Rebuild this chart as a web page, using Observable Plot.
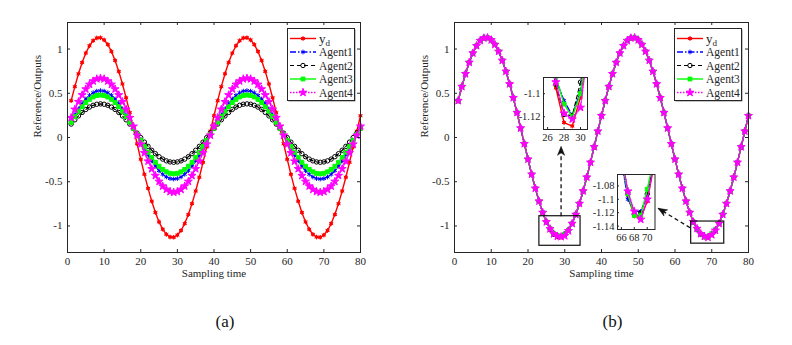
<!DOCTYPE html>
<html><head><meta charset="utf-8">
<script src="https://cdn.jsdelivr.net/npm/d3@7"></script>
<script src="https://cdn.jsdelivr.net/npm/@observablehq/plot@0.6"></script>
<style>
body{margin:0;background:#fff;}
#root{position:relative;width:792px;height:345px;overflow:hidden;background:#fff;}
#root svg{font-family:'Liberation Serif','Times New Roman',serif !important;font-size:11px;background:transparent !important;overflow:visible;}
</style></head><body><div id="root"></div>
<script>
// ---------- data ----------
const time = [1,2,3,4,5,6,7,8,9,10,11,12,13,14,15,16,17,18,19,20,21,22,23,24,25,26,27,28,29,30,31,32,33,34,35,36,37,38,39,40,
41,42,43,44,45,46,47,48,49,50,51,52,53,54,55,56,57,58,59,60,61,62,63,64,65,66,67,68,69,70,71,72,73,74,75,76,77,78,79,80];

const yd = [0.416,0.575,0.720,0.848,0.954,1.037,1.095,1.125,1.128,1.103,1.051,0.973,0.871,0.747,0.605,0.449,0.281,0.106,-0.071,-0.246,
-0.416,-0.575,-0.720,-0.848,-0.954,-1.037,-1.095,-1.125,-1.128,-1.103,-1.051,-0.973,-0.871,-0.747,-0.605,-0.449,-0.281,-0.106,0.071,0.246,
0.416,0.575,0.720,0.848,0.954,1.037,1.095,1.125,1.128,1.103,1.051,0.973,0.871,0.747,0.605,0.449,0.281,0.106,-0.071,-0.246,
-0.416,-0.575,-0.720,-0.848,-0.954,-1.037,-1.095,-1.125,-1.128,-1.103,-1.051,-0.973,-0.871,-0.747,-0.605,-0.449,-0.281,-0.106,0.071,0.246];

// panel (a): outputs before learning
const agent1A = [0.185,0.257,0.324,0.384,0.435,0.476,0.506,0.524,0.530,0.524,0.506,0.476,0.435,0.384,0.324,0.257,0.185,0.108,0.030,-0.048,
-0.125,-0.197,-0.264,-0.324,-0.375,-0.416,-0.446,-0.464,-0.470,-0.464,-0.446,-0.416,-0.375,-0.324,-0.264,-0.197,-0.125,-0.048,0.030,0.108,
0.185,0.257,0.324,0.384,0.435,0.476,0.506,0.524,0.530,0.524,0.506,0.476,0.435,0.384,0.324,0.257,0.185,0.108,0.030,-0.048,
-0.125,-0.197,-0.264,-0.324,-0.375,-0.416,-0.446,-0.464,-0.470,-0.464,-0.446,-0.416,-0.375,-0.324,-0.264,-0.197,-0.125,-0.048,0.030,0.108];
const agent2A = [0.152,0.200,0.244,0.283,0.317,0.344,0.364,0.376,0.380,0.376,0.364,0.344,0.317,0.283,0.244,0.200,0.152,0.101,0.050,-0.001,
-0.052,-0.100,-0.144,-0.183,-0.217,-0.244,-0.264,-0.276,-0.280,-0.276,-0.264,-0.244,-0.217,-0.183,-0.144,-0.100,-0.052,-0.001,0.050,0.101,
0.152,0.200,0.244,0.283,0.317,0.344,0.364,0.376,0.380,0.376,0.364,0.344,0.317,0.283,0.244,0.200,0.152,0.101,0.050,-0.001,
-0.052,-0.100,-0.144,-0.183,-0.217,-0.244,-0.264,-0.276,-0.280,-0.276,-0.264,-0.244,-0.217,-0.183,-0.144,-0.100,-0.052,-0.001,0.050,0.101];
const agent3A = [0.173,0.237,0.297,0.350,0.395,0.431,0.458,0.475,0.480,0.475,0.458,0.431,0.395,0.350,0.297,0.237,0.173,0.104,0.035,-0.034,
-0.103,-0.167,-0.227,-0.280,-0.325,-0.361,-0.388,-0.405,-0.410,-0.405,-0.388,-0.361,-0.325,-0.280,-0.227,-0.167,-0.103,-0.034,0.035,0.104,
0.173,0.237,0.297,0.350,0.395,0.431,0.458,0.475,0.480,0.475,0.458,0.431,0.395,0.350,0.297,0.237,0.173,0.104,0.035,-0.034,
-0.103,-0.167,-0.227,-0.280,-0.325,-0.361,-0.388,-0.405,-0.410,-0.405,-0.388,-0.361,-0.325,-0.280,-0.227,-0.167,-0.103,-0.034,0.035,0.104];
const agent4A = [0.224,0.318,0.404,0.481,0.547,0.600,0.638,0.662,0.670,0.662,0.638,0.600,0.547,0.481,0.404,0.318,0.224,0.126,0.025,-0.076,
-0.174,-0.268,-0.354,-0.431,-0.497,-0.550,-0.588,-0.612,-0.620,-0.612,-0.588,-0.550,-0.497,-0.431,-0.354,-0.268,-0.174,-0.076,0.025,0.126,
0.224,0.318,0.404,0.481,0.547,0.600,0.638,0.662,0.670,0.662,0.638,0.600,0.547,0.481,0.404,0.318,0.224,0.126,0.025,-0.076,
-0.174,-0.268,-0.354,-0.431,-0.497,-0.550,-0.588,-0.612,-0.620,-0.612,-0.588,-0.550,-0.497,-0.431,-0.354,-0.268,-0.174,-0.076,0.025,0.126];

// panel (b): outputs after learning
const agent1B = [0.416,0.575,0.720,0.848,0.954,1.037,1.095,1.125,1.128,1.103,1.051,0.973,0.871,0.747,0.605,0.449,0.281,0.106,-0.071,-0.246,
-0.416,-0.575,-0.720,-0.848,-0.954,-1.030,-1.088,-1.106,-1.119,-1.098,-1.048,-0.973,-0.871,-0.747,-0.605,-0.449,-0.281,-0.106,0.071,0.246,
0.416,0.575,0.720,0.848,0.954,1.037,1.095,1.125,1.128,1.103,1.051,0.973,0.871,0.747,0.605,0.449,0.281,0.106,-0.071,-0.246,
-0.416,-0.575,-0.720,-0.848,-0.954,-1.040,-1.100,-1.118,-1.118,-1.095,-1.046,-0.973,-0.871,-0.747,-0.605,-0.449,-0.281,-0.106,0.071,0.246];
const agent2B = [0.416,0.575,0.720,0.848,0.954,1.037,1.095,1.125,1.128,1.103,1.051,0.973,0.871,0.747,0.605,0.449,0.281,0.106,-0.071,-0.246,
-0.416,-0.575,-0.720,-0.848,-0.954,-1.035,-1.092,-1.118,-1.119,-1.090,-1.045,-0.973,-0.871,-0.747,-0.605,-0.449,-0.281,-0.106,0.071,0.246,
0.416,0.575,0.720,0.848,0.954,1.037,1.095,1.125,1.128,1.103,1.051,0.973,0.871,0.747,0.605,0.449,0.281,0.106,-0.071,-0.246,
-0.416,-0.575,-0.720,-0.848,-0.954,-1.033,-1.090,-1.122,-1.120,-1.092,-1.045,-0.973,-0.871,-0.747,-0.605,-0.449,-0.281,-0.106,0.071,0.246];
const agent3B = [0.416,0.575,0.720,0.848,0.954,1.037,1.095,1.125,1.128,1.103,1.051,0.973,0.871,0.747,0.605,0.449,0.281,0.106,-0.071,-0.246,
-0.416,-0.575,-0.720,-0.848,-0.954,-1.028,-1.085,-1.109,-1.120,-1.100,-1.050,-0.973,-0.871,-0.747,-0.605,-0.449,-0.281,-0.106,0.071,0.246,
0.416,0.575,0.720,0.848,0.954,1.037,1.095,1.125,1.128,1.103,1.051,0.973,0.871,0.747,0.605,0.449,0.281,0.106,-0.071,-0.246,
-0.416,-0.575,-0.720,-0.848,-0.954,-1.035,-1.092,-1.124,-1.124,-1.085,-1.040,-0.973,-0.871,-0.747,-0.605,-0.449,-0.281,-0.106,0.071,0.246];
const agent4B = [0.416,0.575,0.720,0.848,0.954,1.037,1.095,1.125,1.128,1.103,1.051,0.973,0.871,0.747,0.605,0.449,0.281,0.106,-0.071,-0.246,
-0.416,-0.575,-0.720,-0.848,-0.954,-1.033,-1.090,-1.117,-1.122,-1.112,-1.055,-0.973,-0.871,-0.747,-0.605,-0.449,-0.281,-0.106,0.071,0.246,
0.416,0.575,0.720,0.848,0.954,1.037,1.095,1.125,1.128,1.103,1.051,0.973,0.871,0.747,0.605,0.449,0.281,0.106,-0.071,-0.246,
-0.416,-0.575,-0.720,-0.848,-0.954,-1.030,-1.088,-1.118,-1.130,-1.100,-1.050,-0.973,-0.871,-0.747,-0.605,-0.449,-0.281,-0.106,0.071,0.246];

const legendLabels = ["y_d", "Agent1", "Agent2", "Agent3", "Agent4"];
const xTicks = [0,10,20,30,40,50,60,70,80];
const yTicks = [-1,-0.5,0,0.5,1];
const xLabel = "Sampling time";
const yLabel = "Reference/Outputs";
const captions = ["(a)", "(b)"];

// zoom annotations in panel (b) (data coordinates)
const zoomBoxes = [{x1:23.1, x2:34.3, y1:-0.89, y2:-1.224}, {x1:64.4, x2:73.4, y1:-0.95, y2:-1.20}];
const zoomArrows = [{x1:29.0, y1:-0.89, x2:29.0, y2:-0.10}, {x1:64.1, y1:-1.02, x2:55.4, y2:-0.80}];
const inset1 = {xDomain:[25.5, 30.85], yDomain:[-1.131, -1.086], xTicks:[26,28,30], yTicks:[-1.12,-1.1]};
const inset2 = {xDomain:[65.4, 71.2], yDomain:[-1.145, -1.063], xTicks:[66,68,70], yTicks:[-1.14,-1.12,-1.1,-1.08]};

// ---------- styles ----------
const FONT = "Liberation Serif";
const INK = "#262626";
const styles = [
  {color:"#ff0000", dash:null, width:1.4, symbol:"asterisk", r:2.2, fill:"none", core:true},
  {color:"#0000ff", dash:"6,2,1.5,2", width:1.4, symbol:"asterisk", r:2.2, fill:"none"},
  {color:"#000000", dash:"4,3", width:1.2, symbol:"circle", r:2.2, fill:"none"},
  {color:"#00ff00", dash:null, width:1.4, symbol:"square", r:2.2, fill:"#00ff00"},
  {color:"#ff00ff", dash:"1.5,1.5", width:1.4, symbol:"star", r:2.5, fill:"#ff00ff"}
];
const W = 396, H = 345, MT = 22, MB = 93;
const root = document.getElementById("root");
const plotStyle = {"font-family": FONT, "font-size": "11px", "color": INK, "background": "transparent", "overflow": "visible"};

function rows(values, lo=-Infinity, hi=Infinity) {
  return values.map((v, i) => ({t: time[i], v})).filter(d => d.t >= lo && d.t <= hi);
}
function seriesMarks(list, lo, hi, extra={}) {
  const m = [];
  list.forEach((vals, k) => {
    const s = styles[k], data = rows(vals, lo, hi);
    const lineOpts = {x:"t", y:"v", stroke:s.color, strokeWidth:s.width, ...extra};
    if (s.dash) lineOpts.strokeDasharray = s.dash;
    m.push(Plot.line(data, lineOpts));
    if (s.core) m.push(Plot.dot(data, {x:"t", y:"v", r:1.7, fill:s.color, ...extra}));
    m.push(Plot.dot(data, {x:"t", y:"v", symbol:s.symbol, r:s.r, fill:s.fill, stroke:s.color, strokeWidth:1, ...extra}));
  });
  return m;
}
function place(node, left, top) {
  const div = document.createElement("div");
  div.style.position = "absolute"; div.style.left = left + "px"; div.style.top = top + "px";
  div.appendChild(node); root.appendChild(div);
}
const fmt = d => String(d);
const txt = {fontFamily: FONT, fontSize: 11, fill: INK};

function mainPanel({left, ml, mr, series, caption, extra = []}) {
  const innerW = W - ml - mr, innerH = H - MT - MB;
  const svg = Plot.plot({
    width: W, height: H, marginLeft: ml, marginRight: mr, marginTop: MT, marginBottom: MB,
    x: {domain: [0, 80], label: null}, y: {domain: [-1.3, 1.3], label: null},
    style: plotStyle,
    marks: [
      ...seriesMarks(series),
      ...extra,
      Plot.frame({stroke: INK, strokeWidth: 1}),
      Plot.ruleX(xTicks, {x: d => d, insetTop: innerH - 3, stroke: INK}),
      Plot.ruleX(xTicks, {x: d => d, insetBottom: innerH - 3, stroke: INK}),
      Plot.ruleY(yTicks, {y: d => d, insetRight: innerW - 3, stroke: INK}),
      Plot.ruleY(yTicks, {y: d => d, insetLeft: innerW - 3, stroke: INK}),
      Plot.axisX({ticks: xTicks, tickSize: 0, tickPadding: 5, tickFormat: fmt, label: null, ...txt}),
      Plot.axisY({ticks: yTicks, tickSize: 0, tickPadding: 5, tickFormat: fmt, label: null, ...txt}),
      Plot.text([xLabel], {text: d => d, frameAnchor: "bottom", dy: 24, ...txt}),
      Plot.text([yLabel], {text: d => d, frameAnchor: "left", dx: -30, rotate: -90, ...txt}),
      Plot.text([caption], {text: d => d, frameAnchor: "bottom", dy: 74, dx: 11, ...txt, fontSize: 17, fill: "#111"})
    ]
  });
  place(svg, left, 0);
}

function insetPanel({fx, fy, fw, fh, cfg, series}) {
  const ml = 34, mt = 4, mr = 4, mb = 18;
  const svg = Plot.plot({
    width: ml + fw + mr, height: mt + fh + mb, marginLeft: ml, marginRight: mr, marginTop: mt, marginBottom: mb,
    x: {domain: cfg.xDomain, label: null}, y: {domain: cfg.yDomain, label: null},
    style: plotStyle,
    marks: [
      Plot.frame({fill: "white"}),
      ...seriesMarks(series, cfg.xDomain[0] - 1, cfg.xDomain[1] + 1, {clip: true}),
      Plot.frame({stroke: INK, strokeWidth: 1}),
      Plot.ruleX(cfg.xTicks, {x: d => d, insetTop: fh - 2, stroke: INK}),
      Plot.ruleY(cfg.yTicks, {y: d => d, insetRight: fw - 2, stroke: INK}),
      Plot.axisX({ticks: cfg.xTicks, tickSize: 0, tickPadding: 4, tickFormat: fmt, label: null, ...txt, fontSize: 10.5}),
      Plot.axisY({ticks: cfg.yTicks, tickSize: 0, tickPadding: 3, tickFormat: fmt, label: null, ...txt, fontSize: 10.5})
    ]
  });
  place(svg, fx - ml, fy - mt);
}

const symbolTypes = {asterisk: d3.symbolAsterisk, circle: d3.symbolCircle, square: d3.symbolSquare, star: d3.symbolStar};
function legend(left, top) {
  const w = 67, h = 72;
  const svg = d3.create("svg").attr("width", w + 3).attr("height", h + 3);
  svg.append("rect").attr("x", 1.5).attr("y", 1.5).attr("width", w).attr("height", h).attr("fill", "#888");
  svg.append("rect").attr("x", 0.5).attr("y", 0.5).attr("width", w).attr("height", h).attr("fill", "white").attr("stroke", INK);
  legendLabels.forEach((lab, k) => {
    const s = styles[k], cy = 10.5 + 13.5 * k;
    svg.append("line").attr("x1", 3).attr("x2", 29).attr("y1", cy).attr("y2", cy)
      .attr("stroke", s.color).attr("stroke-width", s.width).attr("stroke-dasharray", s.dash);
    if (s.core) svg.append("circle").attr("cx", 16).attr("cy", cy).attr("r", 1.7).attr("fill", s.color);
    svg.append("path").attr("d", d3.symbol(symbolTypes[s.symbol], Math.PI * s.r * s.r)())
      .attr("transform", `translate(16,${cy})`).attr("fill", s.fill).attr("stroke", s.color).attr("stroke-width", 1);
    const t = svg.append("text").attr("x", 32).attr("y", cy + 4).attr("font-family", FONT).attr("font-size", 11.5).attr("fill", INK);
    const [main, sub] = lab.split("_");
    t.append("tspan").text(main).attr("font-size", sub ? 13 : 11.5);
    if (sub) t.append("tspan").text(sub).attr("dy", 3).attr("font-size", 9);
  });
  place(svg.node(), left, top);
}

// arrowhead as custom symbol (tip at origin, pointing up)
const dart = {draw(ctx) { ctx.moveTo(0, 0); ctx.lineTo(3.6, 9); ctx.lineTo(0, 6.5); ctx.lineTo(-3.6, 9); ctx.closePath(); }};

// ---------- panel (a) ----------
mainPanel({left: 0, ml: 67, mr: 36, series: [yd, agent1A, agent2A, agent3A, agent4A], caption: captions[0]});
legend(287, 28);

// ---------- panel (b) ----------
const mlB = 58, mrB = 44;
const kx = (W - mlB - mrB) / 80, ky = (H - MT - MB) / 2.6;
const angle = d => Math.atan2((d.x2 - d.x1) * kx, (d.y2 - d.y1) * ky) * 180 / Math.PI;
mainPanel({
  left: 396, ml: mlB, mr: mrB, series: [yd, agent1B, agent2B, agent3B, agent4B], caption: captions[1],
  extra: [
    Plot.rect(zoomBoxes, {x1: "x1", x2: "x2", y1: "y1", y2: "y2", fill: "none", stroke: "#111", strokeWidth: 1.2}),
    Plot.link(zoomArrows, {x1: "x1", y1: "y1", x2: "x2", y2: "y2", stroke: "#111", strokeWidth: 1.3, strokeDasharray: "4,3"}),
    Plot.dot(zoomArrows, {x: "x2", y: "y2", symbol: dart, r: 3, fill: "#111", stroke: "#111", strokeWidth: 0.5, rotate: angle})
  ]
});
legend(674, 28);
insetPanel({fx: 543, fy: 77, fw: 44, fh: 52, cfg: inset1, series: [yd, agent1B, agent2B, agent3B, agent4B]});
insetPanel({fx: 616.5, fy: 173.5, fw: 37.5, fh: 55, cfg: inset2, series: [yd, agent1B, agent2B, agent3B, agent4B]});
</script></body></html>
